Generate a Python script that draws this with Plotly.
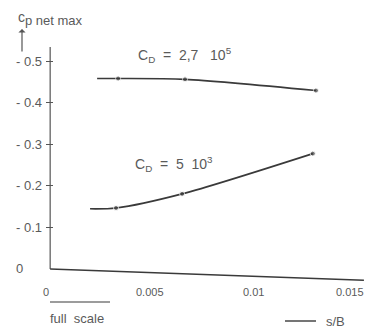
import plotly.graph_objects as go

# ---- data ----
s_B_high = [0.00226, 0.00327, 0.00649, 0.01279]      # C_D = 2,7 10^5
cp_high = [0.459, 0.459, 0.457, 0.430]
s_B_low = [0.00192, 0.00317, 0.00635, 0.01264]       # C_D = 5 10^3
cp_low = [0.145, 0.147, 0.181, 0.278]
marker_flags = [False, True, True, True]             # first point = line start only

x_tick_vals = [0, 0.005, 0.01, 0.015]
x_tick_text = ["0", "0.005", "0.01", "0.015"]
y_tick_vals = [0, 0.1, 0.2, 0.3, 0.4, 0.5]
y_tick_text = ["0", "- 0.1", "- 0.2", "- 0.3", "- 0.4", "- 0.5"]

label_high = "C<sub>D</sub>\u00a0 = \u00a02,7\u00a0\u00a0 10<sup>5</sup>"
label_low = "C<sub>D</sub>\u00a0 = \u00a05\u00a0 10<sup>3</sup>"
y_title = "c<sub><span style='font-size:13px'>p net max</span></sub>"
x_title = "s/B"
full_scale = "full\u00a0 scale"

# ---- layout geometry (page body has an 8 px margin) ----
OFF = 8
W, H = 375 - OFF, 330 - OFF
# plot area in reference-pixel coordinates: left 46, right 366, top 37, bottom 286
L_REF, R_REF, T_REF, B_REF = 46, 366, 37, 286
ML, MR, MT, MB = L_REF - OFF, 375 - R_REF, T_REF - OFF, 330 - B_REF
PW, PH = R_REF - L_REF, B_REF - T_REF

def px(p):
    return (p - L_REF) / PW

def py(p):
    return (B_REF - p) / PH

ink = "#3a3a3a"
txt = "#5a5a5a"
fam = "Liberation Sans, Arial, sans-serif"
font = dict(family=fam, size=12, color=txt)

fig = go.Figure()
for xs, ys in [(s_B_high, cp_high), (s_B_low, cp_low)]:
    fig.add_trace(go.Scatter(
        x=xs, y=ys, mode="lines+markers",
        line=dict(color=ink, width=1.6, shape="spline", smoothing=0.8),
        marker=dict(size=[5 if f else 0 for f in marker_flags], color=ink),
        hoverinfo="skip", showlegend=False,
    ))

shapes = [
    # y axis line
    dict(type="line", xref="x", yref="y", x0=0, x1=0, y0=0, y1=0.535,
         line=dict(color="#555", width=1.2)),
    # x axis line (slightly skewed as in the scan)
    dict(type="line", xref="x", yref="y", x0=0, x1=0.0151, y0=0.0, y1=-0.027,
         line=dict(color=ink, width=1.4)),
    # full scale bar
    dict(type="line", xref="paper", yref="paper", x0=px(50), x1=px(110),
         y0=py(302), y1=py(302), line=dict(color=ink, width=1.2)),
    # s/B arrow line
    dict(type="line", xref="paper", yref="paper", x0=px(285), x1=px(316),
         y0=py(321), y1=py(321), line=dict(color=ink, width=1.4)),
]

annotations = []
for v, t in zip(y_tick_vals, y_tick_text):
    annotations.append(dict(xref="paper", yref="y", x=px(14), y=v, text=t,
                            showarrow=False, xanchor="left", yanchor="middle",
                            font=dict(family=fam, size=13, color=txt)))
n_x = len(x_tick_vals)
for i, (v, t) in enumerate(zip(x_tick_vals, x_tick_text)):
    last = i == n_x - 1
    annotations.append(dict(xref="x", yref="paper", x=v, y=py(292), text=t,
                            showarrow=False,
                            xanchor="right" if last else "center",
                            yanchor="middle",
                            xshift=4 if last else -4,
                            font=dict(family=fam, size=11, color=txt)))
annotations += [
    dict(xref="paper", yref="paper", x=px(16), y=py(19), text=y_title,
         showarrow=False, xanchor="left", yanchor="middle",
         font=dict(family=fam, size=14, color=txt)),
    dict(xref="paper", yref="paper", x=px(22), y=py(29), text="",
         showarrow=True, ax=0, ay=24, arrowhead=1, arrowsize=1,
         arrowwidth=1.2, arrowcolor="#555"),
    dict(xref="paper", yref="paper", x=px(136), y=py(55), text=label_high,
         showarrow=False, xanchor="left", yanchor="middle",
         font=dict(family=fam, size=14, color=txt)),
    dict(xref="paper", yref="paper", x=px(133), y=py(164), text=label_low,
         showarrow=False, xanchor="left", yanchor="middle",
         font=dict(family=fam, size=14, color=txt)),
    dict(xref="paper", yref="paper", x=px(48), y=py(318), text=full_scale,
         showarrow=False, xanchor="left", yanchor="middle",
         font=dict(family=fam, size=13, color=txt)),
    dict(xref="paper", yref="paper", x=px(324), y=py(321), text=x_title,
         showarrow=False, xanchor="left", yanchor="middle",
         font=dict(family=fam, size=13, color=txt)),
]

fig.update_layout(
    width=W, height=H,
    margin=dict(l=ML, r=MR, t=MT, b=MB, pad=0),
    paper_bgcolor="white", plot_bgcolor="white",
    font=font,
    shapes=shapes, annotations=annotations,
    xaxis=dict(range=[-0.0002, 0.0152], showticklabels=False,
               showgrid=False, zeroline=False, showline=False, ticks=""),
    yaxis=dict(range=[-0.041, 0.559], tickvals=y_tick_vals[1:], showticklabels=False,
               showgrid=False, zeroline=False, showline=False,
               ticks="inside", ticklen=7, tickcolor="#555", tickwidth=1),
)

fig.write_html("out.html")
